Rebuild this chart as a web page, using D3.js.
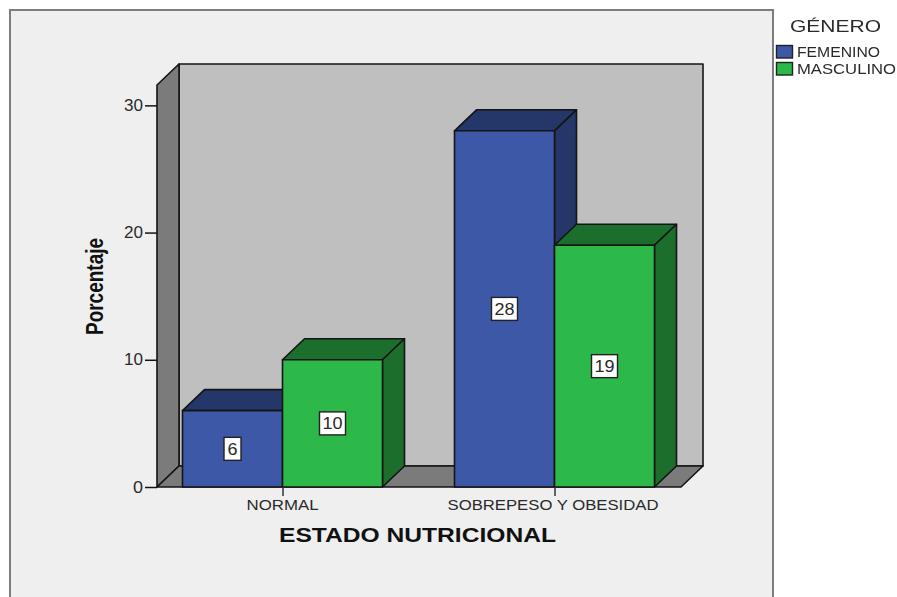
<!DOCTYPE html>
<html lang="es">
<head>
<meta charset="UTF-8">
<title>Estado nutricional</title>
<script src="https://cdn.jsdelivr.net/npm/d3@7/dist/d3.min.js"></script>
<style>
    html, body { margin: 0; padding: 0; background: #fff; overflow: hidden; }
    svg { display: block; filter: blur(0.5px); }
    text { font-family: "Liberation Sans", Arial, sans-serif; }
</style>
</head>
<body>
<svg width="897" height="597"></svg>
<script>
    const categories = ["NORMAL", "SOBREPESO Y OBESIDAD"];
    const series = ["FEMENINO", "MASCULINO"];
    const femenino = [6, 28];
    const masculino = [10, 19];
    const yTicks = [0, 10, 20, 30];

    const colors = {
        FEMENINO: {front: "#3e58a8", dark: "#253668"},
        MASCULINO: {front: "#2db84a", dark: "#1c6e2c"}
    };
    const values = {FEMENINO: femenino, MASCULINO: masculino};

    const svg = d3.select("svg");
    const inkColor = "#141414";
    const textColor = "#2a2a2a";

    // plot frame, open at the bottom because the picture is cut there
    svg.append("rect").attr("x", 10).attr("y", 10).attr("width", 763).attr("height", 600)
        .attr("fill", "#efefef").attr("stroke", "#7d7d7d").attr("stroke-width", 2);

    const dx = 22, dy = -21;
    const y = d3.scaleLinear().domain([0, 31.6]).range([487, 85]);
    const x0 = d3.scalePoint().domain(categories).range([282.5, 554.5]);
    const x1 = d3.scaleBand().domain(series).range([-100, 100]);

    const floorY = y(0), topY = y.range()[1];
    const leftX = 157, rightX = 681;
    const line = d3.line();

    function face(pts, fill) {
        svg.append("path").attr("d", line(pts) + "Z")
            .attr("fill", fill).attr("stroke", inkColor).attr("stroke-width", 1.6)
            .attr("stroke-linejoin", "round");
    }

    // back wall, left wall, floor
    face([[leftX + dx, topY + dy], [rightX + dx, topY + dy], [rightX + dx, floorY + dy], [leftX + dx, floorY + dy]], "#bfbfbf");
    face([[leftX, floorY], [leftX, topY], [leftX + dx, topY + dy], [leftX + dx, floorY + dy]], "#7b7b7b");
    face([[leftX, floorY], [leftX + dx, floorY + dy], [rightX + dx, floorY + dy], [rightX, floorY]], "#7b7b7b");

    // bars, left to right so each one overlaps the previous
    categories.forEach((cat, i) => {
        series.forEach(s => {
            const v = values[s][i];
            const xa = x0(cat) + x1(s), xb = xa + x1.bandwidth();
            const yt = y(v);
            face([[xa, yt], [xa + dx, yt + dy], [xb + dx, yt + dy], [xb, yt]], colors[s].dark);
            face([[xb, yt], [xb + dx, yt + dy], [xb + dx, floorY + dy], [xb, floorY]], colors[s].dark);
            face([[xa, yt], [xb, yt], [xb, floorY], [xa, floorY]], colors[s].front);
        });
    });

    // value labels
    categories.forEach((cat, i) => {
        series.forEach(s => {
            const v = values[s][i];
            const cx = x0(cat) + x1(s) + x1.bandwidth() / 2;
            const cy = y(v / 2);
            const w = String(v).length > 1 ? 26 : 17;
            svg.append("rect").attr("x", cx - w / 2).attr("y", cy - 11.5).attr("width", w).attr("height", 23)
                .attr("fill", "#fff").attr("stroke", "#222").attr("stroke-width", 1.4);
            svg.append("text").attr("x", cx).attr("y", cy + 6).attr("text-anchor", "middle")
                .attr("font-size", 16).attr("fill", textColor)
                .attr("textLength", String(v).length > 1 ? 20 : 10).attr("lengthAdjust", "spacingAndGlyphs")
                .text(v);
        });
    });

    // y axis
    const yAxis = svg.append("g").attr("transform", `translate(${leftX},0)`)
        .call(d3.axisLeft(y).tickValues(yTicks).tickSize(12).tickPadding(2));
    yAxis.select(".domain").remove();
    yAxis.selectAll("line").attr("stroke", inkColor).attr("stroke-width", 1.5);
    yAxis.selectAll("text").attr("font-size", 16).attr("fill", textColor)
        .attr("font-family", '"Liberation Sans", Arial, sans-serif')
        .attr("textLength", d => d === 0 ? 10 : 19).attr("lengthAdjust", "spacingAndGlyphs");

    // x axis
    const xAxis = svg.append("g").attr("transform", `translate(0,${floorY})`)
        .call(d3.axisBottom(x0).tickSize(9).tickPadding(4).tickSizeOuter(0));
    xAxis.select(".domain").remove();
    xAxis.selectAll("line").attr("stroke", "#333").attr("stroke-width", 1.5);
    xAxis.selectAll("text").attr("font-size", 14.5).attr("fill", textColor)
        .attr("font-family", '"Liberation Sans", Arial, sans-serif')
        .attr("x", d => d === "NORMAL" ? -0.5 : -2)
        .attr("textLength", d => d === "NORMAL" ? 72 : 211).attr("lengthAdjust", "spacingAndGlyphs");

    // axis titles
    svg.append("text").attr("x", 417.5).attr("y", 542).attr("text-anchor", "middle")
        .attr("font-size", 20.5).attr("font-weight", "bold").attr("fill", "#111")
        .attr("textLength", 277).attr("lengthAdjust", "spacingAndGlyphs")
        .text("ESTADO NUTRICIONAL");
    svg.append("text").attr("transform", "translate(103,286.5) rotate(-90)").attr("text-anchor", "middle")
        .attr("font-size", 23).attr("font-weight", "bold").attr("fill", "#111")
        .attr("textLength", 97).attr("lengthAdjust", "spacingAndGlyphs")
        .text("Porcentaje");

    // legend
    svg.append("text").attr("x", 790).attr("y", 32).attr("font-size", 17).attr("fill", textColor)
        .attr("textLength", 91).attr("lengthAdjust", "spacingAndGlyphs").text("GÉNERO");
    series.forEach((s, i) => {
        const top = 45.5 + i * 17;
        svg.append("rect").attr("x", 776.5).attr("y", top).attr("width", 16).attr("height", 12.5)
            .attr("fill", colors[s].front).attr("stroke", "#222").attr("stroke-width", 1.4);
        svg.append("text").attr("x", 797).attr("y", top + 11.5).attr("font-size", 14.5).attr("fill", textColor)
            .attr("textLength", s === "FEMENINO" ? 83 : 99).attr("lengthAdjust", "spacingAndGlyphs").text(s);
    });
</script>
</body>
</html>
